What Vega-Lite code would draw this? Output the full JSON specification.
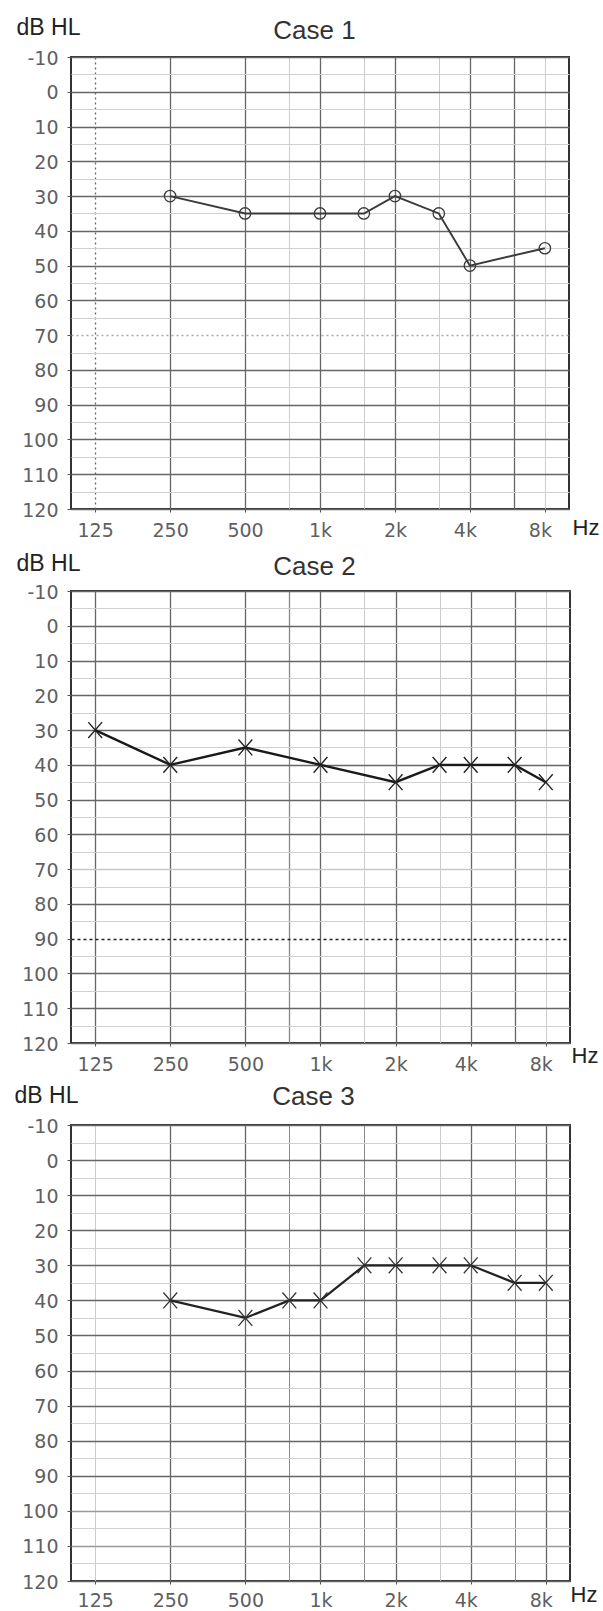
{
  "$schema": "https://vega.github.io/schema/vega-lite/v6.json",
  "background": "white",
  "padding": {"left": 13, "top": 15, "right": 0, "bottom": 0},
  "data": {"values": [
    {"case": "Case 1", "freq": 250, "db": 30},
    {"case": "Case 1", "freq": 500, "db": 35},
    {"case": "Case 1", "freq": 1000, "db": 35},
    {"case": "Case 1", "freq": 1500, "db": 35},
    {"case": "Case 1", "freq": 2000, "db": 30},
    {"case": "Case 1", "freq": 3000, "db": 35},
    {"case": "Case 1", "freq": 4000, "db": 50},
    {"case": "Case 1", "freq": 8000, "db": 45},
    {"case": "Case 2", "freq": 125, "db": 30},
    {"case": "Case 2", "freq": 250, "db": 40},
    {"case": "Case 2", "freq": 500, "db": 35},
    {"case": "Case 2", "freq": 1000, "db": 40},
    {"case": "Case 2", "freq": 2000, "db": 45},
    {"case": "Case 2", "freq": 3000, "db": 40},
    {"case": "Case 2", "freq": 4000, "db": 40},
    {"case": "Case 2", "freq": 6000, "db": 40},
    {"case": "Case 2", "freq": 8000, "db": 45},
    {"case": "Case 3", "freq": 250, "db": 40},
    {"case": "Case 3", "freq": 500, "db": 45},
    {"case": "Case 3", "freq": 750, "db": 40},
    {"case": "Case 3", "freq": 1000, "db": 40},
    {"case": "Case 3", "freq": 1500, "db": 30},
    {"case": "Case 3", "freq": 2000, "db": 30},
    {"case": "Case 3", "freq": 3000, "db": 30},
    {"case": "Case 3", "freq": 4000, "db": 30},
    {"case": "Case 3", "freq": 6000, "db": 35},
    {"case": "Case 3", "freq": 8000, "db": 35}
  ]},
  "config": {
    "view": {"stroke": "#333", "strokeWidth": 2},
    "axis": {
      "domain": false,
      "labelFont": "DejaVu Sans",
      "labelFontSize": 19,
      "labelColor": "#5f5f5f",
      "labelOverlap": false,
      "labelFlush": false,
      "titleFont": "Liberation Sans",
      "titleFontWeight": "normal",
      "titleColor": "#222",
      "tickColor": "#555"
    }
  },
  "spacing": 82,
  "bounds": "flush",
  "vconcat": [
    {
      "width": 498,
      "height": 452,
      "transform": [{"filter": "datum.case === 'Case 1'"}],
      "resolve": {"axis": {"x": "independent", "y": "independent"}},
      "layer": [
        {
          "mark": {"type": "line", "color": "#3a3a3a", "strokeWidth": 1.9},
          "encoding": {
            "x": {"field": "freq", "type": "quantitative",
              "scale": {"type": "log", "domain": [100, 10000], "nice": false},
              "axis": {
                "orient": "bottom",
                "values": [125, 250, 500, 750, 1000, 1500, 2000, 3000, 4000, 6000, 8000],
                "labelExpr": "indexof([125,250,500,1000,2000,4000,8000], datum.value) >= 0 ? (datum.value >= 1000 ? (datum.value/1000) + 'k' : '' + datum.value) : ''",
                "grid": true,
                "gridColor": {"condition": {"test": "indexof([750,1500,3000,8000], datum.value) >= 0", "value": "#cccccc"}, "value": "#666666"},
                "gridDash": {"condition": {"test": "datum.value === 125", "value": [2, 3]}, "value": []},
                "gridWidth": {"condition": {"test": "indexof([750,1500,3000,8000], datum.value) >= 0", "value": 1}, "value": 1.3},
                "tickSize": 3,
                "tickOpacity": {"condition": {"test": "indexof([125,250,500,1000,2000,4000,8000], datum.value) >= 0", "value": 1}, "value": 0},
                "labelOffset": {"condition": {"test": "datum.value >= 4000", "value": -5}, "value": 0},
                "labelPadding": 9,
                "title": "Hz", "titleX": 501, "titleY": 25, "titleAlign": "left", "titleBaseline": "alphabetic", "titleFontSize": 22
              }},
            "y": {"field": "db", "type": "quantitative",
              "scale": {"domain": [-10, 120], "reverse": true, "nice": false, "zero": false},
              "axis": {
                "values": [-10, -5, 0, 5, 10, 15, 20, 25, 30, 35, 40, 45, 50, 55, 60, 65, 70, 75, 80, 85, 90, 95, 100, 105, 110, 115, 120],
                "labelExpr": "datum.value % 10 === 0 ? (datum.value < 0 ? '-' + abs(datum.value) : '' + datum.value) : ''",
                "grid": true,
                "gridColor": {"condition": [{"test": "datum.value === 70", "value": "#aaaaaa"}, {"test": "datum.value % 10 === 0", "value": "#666666"}], "value": "#d0d0d0"},
                "gridDash": {"condition": {"test": "datum.value === 70", "value": [2, 3]}, "value": []},
                "gridWidth": {"condition": {"test": "datum.value % 10 === 0", "value": 1.3}, "value": 1},
                "tickSize": 4,
                "tickOpacity": {"condition": {"test": "datum.value % 10 === 0", "value": 1}, "value": 0},
                "labelPadding": 9,
                "labelBaseline": "middle",
                "labelOffset": 1,
                "title": "dB HL", "titleAngle": 0, "titleX": -55, "titleY": -23, "titleAlign": "left", "titleBaseline": "alphabetic", "titleFontSize": 23
              }}
          }
        },
        {
          "mark": {"type": "point", "shape": "circle", "filled": false, "size": 130, "stroke": "#3a3a3a", "strokeWidth": 1.3, "opacity": 1},
          "encoding": {
            "x": {"field": "freq", "type": "quantitative",
              "axis": {"orient": "top", "labels": false, "ticks": false, "grid": false, "domain": false,
                "title": "Case 1", "titleX": 243, "titleY": -19, "titleAlign": "center", "titleBaseline": "alphabetic", "titleFontSize": 26, "titleColor": "#333"}},
            "y": {"field": "db", "type": "quantitative", "axis": null}
          }
        }
      ]
    },
    {
      "width": 499,
      "height": 452,
      "transform": [{"filter": "datum.case === 'Case 2'"}],
      "resolve": {"axis": {"x": "independent", "y": "independent"}},
      "layer": [
        {
          "mark": {"type": "line", "color": "#1a1a1a", "strokeWidth": 2.4},
          "encoding": {
            "x": {"field": "freq", "type": "quantitative",
              "scale": {"type": "log", "domain": [100, 10000], "nice": false},
              "axis": {
                "orient": "bottom",
                "values": [125, 250, 500, 750, 1000, 1500, 2000, 3000, 4000, 6000, 8000],
                "labelExpr": "indexof([125,250,500,1000,2000,4000,8000], datum.value) >= 0 ? (datum.value >= 1000 ? (datum.value/1000) + 'k' : '' + datum.value) : ''",
                "grid": true,
                "gridColor": {"condition": [{"test": "indexof([1500,3000,8000], datum.value) >= 0", "value": "#cccccc"}, {"test": "datum.value === 750", "value": "#888888"}], "value": "#666666"},
                "gridWidth": {"condition": {"test": "indexof([1500,3000,8000], datum.value) >= 0", "value": 1}, "value": 1.3},
                "tickSize": 3,
                "tickOpacity": {"condition": {"test": "indexof([125,250,500,1000,2000,4000,8000], datum.value) >= 0", "value": 1}, "value": 0},
                "labelOffset": {"condition": {"test": "datum.value >= 4000", "value": -5}, "value": 0},
                "labelPadding": 9,
                "title": "Hz", "titleX": 500, "titleY": 19, "titleAlign": "left", "titleBaseline": "alphabetic", "titleFontSize": 22
              }},
            "y": {"field": "db", "type": "quantitative",
              "scale": {"domain": [-10, 120], "reverse": true, "nice": false, "zero": false},
              "axis": {
                "values": [-10, -5, 0, 5, 10, 15, 20, 25, 30, 35, 40, 45, 50, 55, 60, 65, 70, 75, 80, 85, 90, 95, 100, 105, 110, 115, 120],
                "labelExpr": "datum.value % 10 === 0 ? (datum.value < 0 ? '-' + abs(datum.value) : '' + datum.value) : ''",
                "grid": true,
                "gridColor": {"condition": [{"test": "datum.value === 90", "value": "#222222"}, {"test": "datum.value === 70", "value": "#c8c8c8"}, {"test": "datum.value % 10 === 0", "value": "#666666"}], "value": "#d0d0d0"},
                "gridDash": {"condition": {"test": "datum.value === 90", "value": [3, 3]}, "value": []},
                "gridWidth": {"condition": {"test": "datum.value % 10 === 0", "value": 1.3}, "value": 1},
                "tickSize": 4,
                "tickOpacity": {"condition": {"test": "datum.value % 10 === 0", "value": 1}, "value": 0},
                "labelPadding": 9,
                "labelBaseline": "middle",
                "labelOffset": 1,
                "title": "dB HL", "titleAngle": 0, "titleX": -55, "titleY": -21, "titleAlign": "left", "titleBaseline": "alphabetic", "titleFontSize": 23
              }}
          }
        },
        {
          "mark": {"type": "point", "shape": "M-1,-1.15L1,1.15M-1,1.15L1,-1.15", "filled": false, "size": 190, "stroke": "#222", "strokeWidth": 1.4, "opacity": 1},
          "encoding": {
            "x": {"field": "freq", "type": "quantitative",
              "axis": {"orient": "top", "labels": false, "ticks": false, "grid": false, "domain": false,
                "title": "Case 2", "titleX": 243, "titleY": -17, "titleAlign": "center", "titleBaseline": "alphabetic", "titleFontSize": 26, "titleColor": "#333"}},
            "y": {"field": "db", "type": "quantitative", "axis": null}
          }
        }
      ]
    },
    {
      "width": 499,
      "height": 456,
      "transform": [{"filter": "datum.case === 'Case 3'"}],
      "resolve": {"axis": {"x": "independent", "y": "independent"}},
      "layer": [
        {
          "mark": {"type": "line", "color": "#222", "strokeWidth": 2.2},
          "encoding": {
            "x": {"field": "freq", "type": "quantitative",
              "scale": {"type": "log", "domain": [100, 10000], "nice": false},
              "axis": {
                "orient": "bottom",
                "values": [125, 250, 500, 750, 1000, 1500, 2000, 3000, 4000, 6000, 8000],
                "labelExpr": "indexof([125,250,500,1000,2000,4000,8000], datum.value) >= 0 ? (datum.value >= 1000 ? (datum.value/1000) + 'k' : '' + datum.value) : ''",
                "grid": true,
                "gridColor": {"condition": [{"test": "indexof([125,3000], datum.value) >= 0", "value": "#cccccc"}, {"test": "indexof([750,1500,6000], datum.value) >= 0", "value": "#888888"}], "value": "#666666"},
                "gridWidth": {"condition": {"test": "indexof([125,750,1500,3000,6000], datum.value) >= 0", "value": 1}, "value": 1.3},
                "tickSize": 3,
                "tickOpacity": {"condition": {"test": "indexof([125,250,500,1000,2000,4000,8000], datum.value) >= 0", "value": 1}, "value": 0},
                "labelOffset": {"condition": {"test": "datum.value >= 4000", "value": -5}, "value": 0},
                "labelPadding": 7,
                "title": "Hz", "titleX": 499, "titleY": 20, "titleAlign": "left", "titleBaseline": "alphabetic", "titleFontSize": 22
              }},
            "y": {"field": "db", "type": "quantitative",
              "scale": {"domain": [-10, 120], "reverse": true, "nice": false, "zero": false},
              "axis": {
                "values": [-10, -5, 0, 5, 10, 15, 20, 25, 30, 35, 40, 45, 50, 55, 60, 65, 70, 75, 80, 85, 90, 95, 100, 105, 110, 115, 120],
                "labelExpr": "datum.value % 10 === 0 ? (datum.value < 0 ? '-' + abs(datum.value) : '' + datum.value) : ''",
                "grid": true,
                "gridColor": {"condition": [{"test": "datum.value === 100 || datum.value === 110", "value": "#999999"}, {"test": "datum.value % 10 === 0", "value": "#666666"}], "value": "#d0d0d0"},
                "gridWidth": {"condition": {"test": "datum.value % 10 === 0", "value": 1.3}, "value": 1},
                "tickSize": 4,
                "tickOpacity": {"condition": {"test": "datum.value % 10 === 0", "value": 1}, "value": 0},
                "labelPadding": 9,
                "labelBaseline": "middle",
                "labelOffset": 1,
                "title": "dB HL", "titleAngle": 0, "titleX": -57, "titleY": -23, "titleAlign": "left", "titleBaseline": "alphabetic", "titleFontSize": 23
              }}
          }
        },
        {
          "mark": {"type": "point", "shape": "M-1,-1.15L1,1.15M-1,1.15L1,-1.15", "filled": false, "size": 190, "stroke": "#333", "strokeWidth": 1.3, "opacity": 1},
          "encoding": {
            "x": {"field": "freq", "type": "quantitative",
              "axis": {"orient": "top", "labels": false, "ticks": false, "grid": false, "domain": false,
                "title": "Case 3", "titleX": 242, "titleY": -21, "titleAlign": "center", "titleBaseline": "alphabetic", "titleFontSize": 26, "titleColor": "#333"}},
            "y": {"field": "db", "type": "quantitative", "axis": null}
          }
        }
      ]
    }
  ]
}
